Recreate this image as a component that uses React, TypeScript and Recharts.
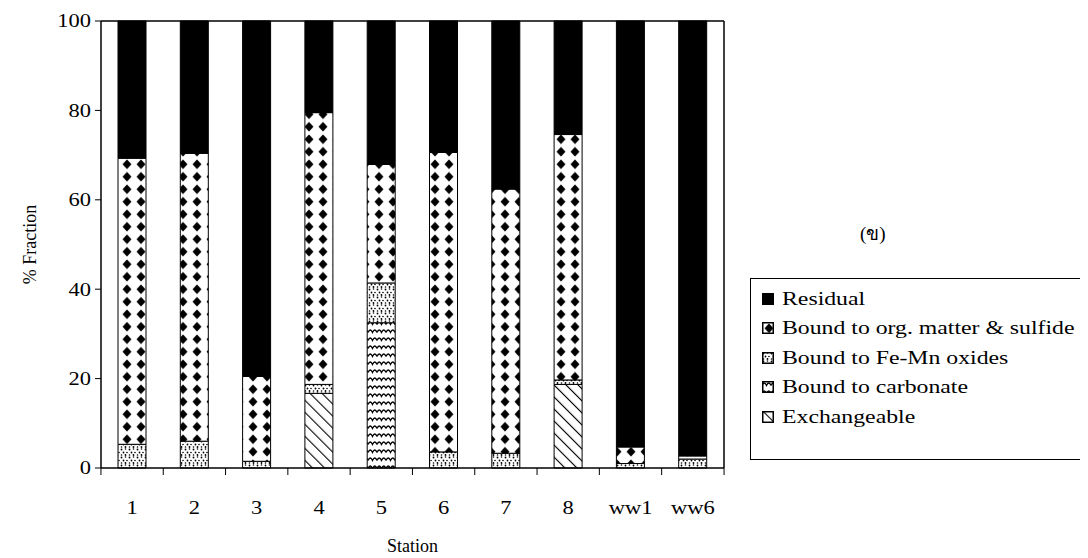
import React from "react";
import { BarChart, Bar, XAxis, YAxis } from "recharts";

const stations = ["1", "2", "3", "4", "5", "6", "7", "8", "ww1", "ww6"];
const exchangeable = [0, 0, 0, 16.7, 0, 0, 0, 18.7, 0, 0];
const carbonate = [0, 0, 0, 0, 32.5, 0, 0, 0, 0, 0];
const feMnOxides = [5.3, 6.0, 1.5, 2.0, 8.9, 3.6, 3.3, 1.0, 1.0, 2.0];
const orgSulfide = [64.0, 64.4, 19.0, 60.8, 26.5, 67.0, 59.1, 54.9, 3.7, 0.7];
const residual = [30.7, 29.6, 79.5, 20.5, 32.1, 29.4, 37.6, 25.4, 95.3, 97.3];
const yTicks = [0, 20, 40, 60, 80, 100];

const data = stations.map((s, i) => ({
  station: s,
  exchangeable: exchangeable[i],
  carbonate: carbonate[i],
  feMn: feMnOxides[i],
  org: orgSulfide[i],
  residual: residual[i],
}));

// legend order is top to bottom, stack order is the reverse
const series = [
  { key: "residual", name: "Residual", fill: "#000" },
  { key: "org", name: "Bound to org. matter & sulfide", fill: "url(#pOrg)" },
  { key: "feMn", name: "Bound to Fe-Mn oxides", fill: "url(#pDots)" },
  { key: "carbonate", name: "Bound to carbonate", fill: "url(#pWave)" },
  { key: "exchangeable", name: "Exchangeable", fill: "url(#pHatch)" },
];

const W = 1080;
const H = 550;
const Y_AXIS_W = 93;
const M_RIGHT = 363;
const BAND = (W - Y_AXIS_W - M_RIGHT) / stations.length;
const SX = 1.25; // the scan is stretched sideways
const FONT = "'Liberation Serif', 'Times New Roman', serif";

function YTick({ x, y, payload }: any) {
  return (
    <text
      transform={`translate(${x},${y}) scale(${SX},1)`}
      textAnchor="end"
      dy="0.35em"
      fontSize={18}
      fontFamily={FONT}
      fill="#000"
    >
      {payload.value}
    </text>
  );
}

function XTick({ x, y, payload, index }: any) {
  const last = index === stations.length - 1;
  return (
    <g>
      <line x1={x - BAND / 2} x2={x - BAND / 2} y1={y} y2={y + 7} stroke="#000" />
      {last && (
        <line x1={x + BAND / 2} x2={x + BAND / 2} y1={y} y2={y + 7} stroke="#000" />
      )}
      <text
        transform={`translate(${x},${y + 40}) scale(${SX},1)`}
        textAnchor="middle"
        dy="0.35em"
        fontSize={18}
        fontFamily={FONT}
        fill="#000"
      >
        {payload.value}
      </text>
    </g>
  );
}

function Swatch({ fill }: { fill: string }) {
  return (
    <svg width={12} height={12} style={{ marginRight: 8, flex: "none" }}>
      <rect x={0.75} y={0.75} width={10.5} height={10.5} fill={fill} stroke="#000" strokeWidth={1.5} />
    </svg>
  );
}

function LegendBox() {
  return (
    <div
      style={{
        position: "absolute",
        left: 742,
        top: 270,
        border: "1.5px solid #000",
        width: 336,
        height: 182,
        boxSizing: "border-box",
        padding: "5px 0 0 11px",
        fontFamily: FONT,
        fontSize: 19,
        background: "#fff",
      }}
    >
      {series.map((s) => (
        <div key={s.key} style={{ display: "flex", alignItems: "center", height: 29.5 }}>
          <Swatch fill={s.fill} />
          <span
            style={{
              display: "inline-block",
              transform: `scaleX(${SX})`,
              transformOrigin: "left center",
              whiteSpace: "nowrap",
            }}
          >
            {s.name}
          </span>
        </div>
      ))}
    </div>
  );
}

export default function App() {
  return (
    <div style={{ position: "relative", width: W, height: H }}>
      <BarChart
        width={W}
        height={H}
        data={data}
        margin={{ top: 12, right: M_RIGHT, left: 0, bottom: 0 }}
        barSize={28}
      >
        <defs>
          <pattern id="pOrg" patternUnits="userSpaceOnUse" width={14} height={12.5}>
            <rect width={14} height={12.5} fill="#fff" />
            <path d="M7,1.5 L11.5,6.25 L7,11 L2.5,6.25 Z" fill="#000" />
          </pattern>
          <pattern id="pDots" patternUnits="userSpaceOnUse" width={8} height={8}>
            <rect width={8} height={8} fill="#fff" />
            <circle cx={1.5} cy={1.5} r={0.9} fill="#000" />
            <circle cx={5.5} cy={1} r={0.8} fill="#000" />
            <circle cx={3.5} cy={4.5} r={0.9} fill="#000" />
            <circle cx={7} cy={4.5} r={0.8} fill="#000" />
            <circle cx={1.5} cy={7} r={0.8} fill="#000" />
            <circle cx={5.5} cy={7} r={0.9} fill="#000" />
          </pattern>
          <pattern id="pWave" patternUnits="userSpaceOnUse" width={9} height={8}>
            <rect width={9} height={8} fill="#fff" />
            <path
              d="M0,5.5 Q2.25,0.5 4.5,5.5 Q6.75,0.5 9,5.5"
              fill="none"
              stroke="#000"
              strokeWidth={1.3}
              transform="translate(0,-1)"
            />
          </pattern>
          <pattern
            id="pHatch"
            patternUnits="userSpaceOnUse"
            width={8.5}
            height={8.5}
            patternTransform="rotate(-45)"
          >
            <rect width={8.5} height={8.5} fill="#fff" />
            <line x1={0} y1={0} x2={0} y2={8.5} stroke="#000" strokeWidth={2.2} />
          </pattern>
        </defs>
        <XAxis
          dataKey="station"
          height={90}
          axisLine={{ stroke: "#000", strokeWidth: 1.5 }}
          tickLine={false}
          tickSize={0}
          tickMargin={0}
          tick={<XTick />}
          interval={0}
          label={{
            value: "Station",
            position: "insideBottom",
            offset: 6,
            fontSize: 18,
            fontFamily: FONT,
            fill: "#000",
          }}
        />
        <XAxis
          xAxisId="top"
          dataKey="station"
          orientation="top"
          height={1}
          tick={false}
          tickLine={false}
          axisLine={{ stroke: "#000", strokeWidth: 1.5 }}
        />
        <YAxis
          domain={[0, 100]}
          ticks={yTicks}
          width={Y_AXIS_W}
          axisLine={{ stroke: "#000", strokeWidth: 1.5 }}
          tickLine={{ stroke: "#000" }}
          tickSize={6}
          tickMargin={4}
          tick={<YTick />}
          label={{
            value: "% Fraction",
            angle: -90,
            position: "insideLeft",
            offset: 22,
            fontSize: 18,
            fontFamily: FONT,
            fill: "#000",
            style: { textAnchor: "middle" },
          }}
        />
        <YAxis
          yAxisId="right"
          orientation="right"
          domain={[0, 100]}
          width={1}
          tick={false}
          tickLine={false}
          axisLine={{ stroke: "#000", strokeWidth: 1.5 }}
        />
        {[...series].reverse().map((s) => (
          <Bar
            key={s.key}
            dataKey={s.key}
            name={s.name}
            stackId="a"
            fill={s.fill}
            stroke="#000"
            strokeWidth={1}
            isAnimationActive={false}
          />
        ))}
      </BarChart>
      <LegendBox />
      <div
        style={{
          position: "absolute",
          left: 852,
          top: 210,
          fontFamily: FONT,
          fontSize: 19,
        }}
      >
        (ข)
      </div>
    </div>
  );
}
